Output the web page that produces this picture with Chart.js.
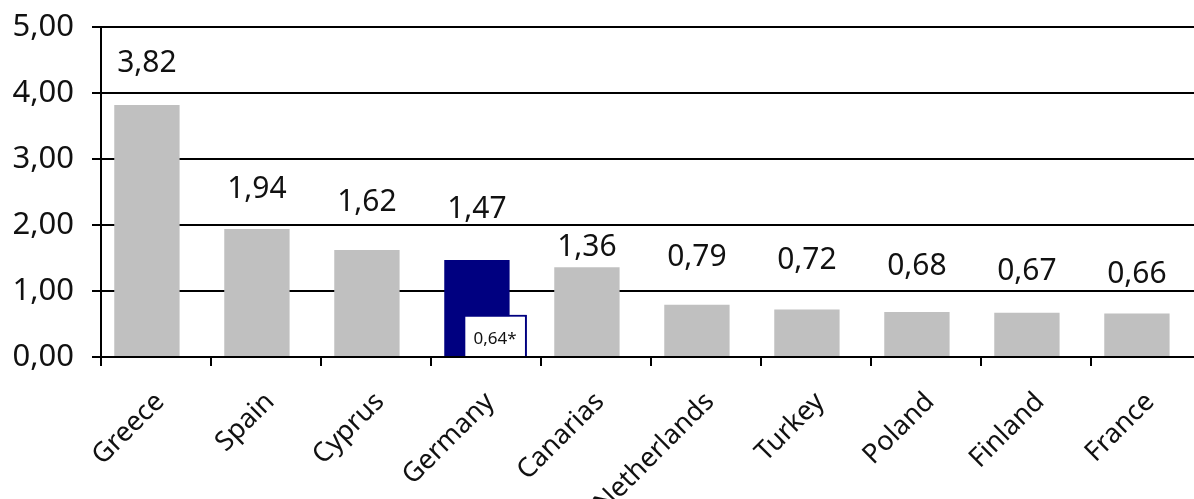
<!DOCTYPE html>
<html><head><meta charset="utf-8">
<script src="https://cdn.jsdelivr.net/npm/chart.js@4/dist/chart.umd.min.js"></script>
<style>html,body{margin:0;padding:0;background:#fff;overflow:hidden}#wrap{width:1210px;height:499px}</style>
</head><body><div id="wrap"><canvas id="c" width="1210" height="499"></canvas></div>
<script>
const categories = ["Greece","Spain","Cyprus","Germany","Canarias","Netherlands","Turkey","Poland","Finland","France"];
const values = [3.82,1.94,1.62,1.47,1.36,0.79,0.72,0.68,0.67,0.66];
const noteValues = [null,null,null,0.64,null,null,null,null,null,null];
const noteLabel = "0,64*";
const highlightIndex = 3;
const yTicks = [0,1,2,3,4,5];

// styling: how far (px) each value label sits above its bar, as placed in the original
const labelLift = [41,40,48,51,20,47,49,46,41,39];

const fmt = v => v.toFixed(2).replace('.', ',');
const FONT = "'Noto Sans', 'DejaVu Sans', sans-serif";

const labelPlugin = {
  id: 'labels',
  afterDatasetsDraw(chart) {
    const ctx = chart.ctx;
    const noteMeta = chart.getDatasetMeta(1);
    noteMeta.controller.draw(); // note bar drawn on top of the main bars
    ctx.save();
    ctx.fillStyle = '#111';
    ctx.font = "30px " + FONT;
    ctx.textAlign = 'center';
    ctx.textBaseline = 'middle';
    chart.getDatasetMeta(0).data.forEach((bar, i) => {
      ctx.fillText(fmt(values[i]), bar.x, bar.y - labelLift[i]);
    });
    ctx.font = "17px " + FONT;
    noteMeta.data.forEach((bar, i) => {
      if (noteValues[i] == null) return;
      ctx.fillText(noteLabel, bar.x, (bar.y + bar.base) / 2 + 4);
    });
    ctx.restore();
  }
};

new Chart(document.getElementById('c'), {
  type: 'bar',
  data: {
    labels: categories,
    datasets: [{
      data: values,
      order: 0,
      backgroundColor: values.map((v, i) => i === highlightIndex ? '#000080' : '#c0c0c0'),
      borderWidth: 0,
      barPercentage: 3.6,
      categoryPercentage: 0.33
    }, {
      data: noteValues,
      order: 1,
      backgroundColor: '#ffffff',
      borderColor: '#000080',
      borderWidth: 2,
      barPercentage: 3.5,
      categoryPercentage: 0.33
    }]
  },
  options: {
    responsive: false,
    animation: false,
    layout: { padding: { top: 27, right: 9, left: 0, bottom: 0 } },
    plugins: { legend: { display: false }, tooltip: { enabled: false } },
    scales: {
      x: {
        offset: true,
        grid: { offset: true, drawOnChartArea: false, drawTicks: true, tickLength: 9, color: '#000', lineWidth: 2 },
        border: { color: '#000', width: 2 },
        ticks: { color: '#111', font: { family: FONT, size: 27 }, minRotation: 45, maxRotation: 45, padding: 20, labelOffset: 4 },
        afterFit(s) { s.height = 142; s.paddingLeft = 0; s.paddingRight = 0; }
      },
      y: {
        min: 0, max: 5,
        afterBuildTicks(s) { s.ticks = yTicks.map(v => ({ value: v })); },
        grid: { color: '#000', lineWidth: 2, tickLength: 9, drawTicks: true },
        border: { color: '#000', width: 2 },
        ticks: { color: '#111', font: { family: FONT, size: 31 }, padding: 18, callback: v => fmt(v) },
        afterFit(s) { s.width = 101; s.paddingTop = 0; s.paddingBottom = 0; }
      }
    }
  },
  plugins: [labelPlugin]
});
</script></body></html>
